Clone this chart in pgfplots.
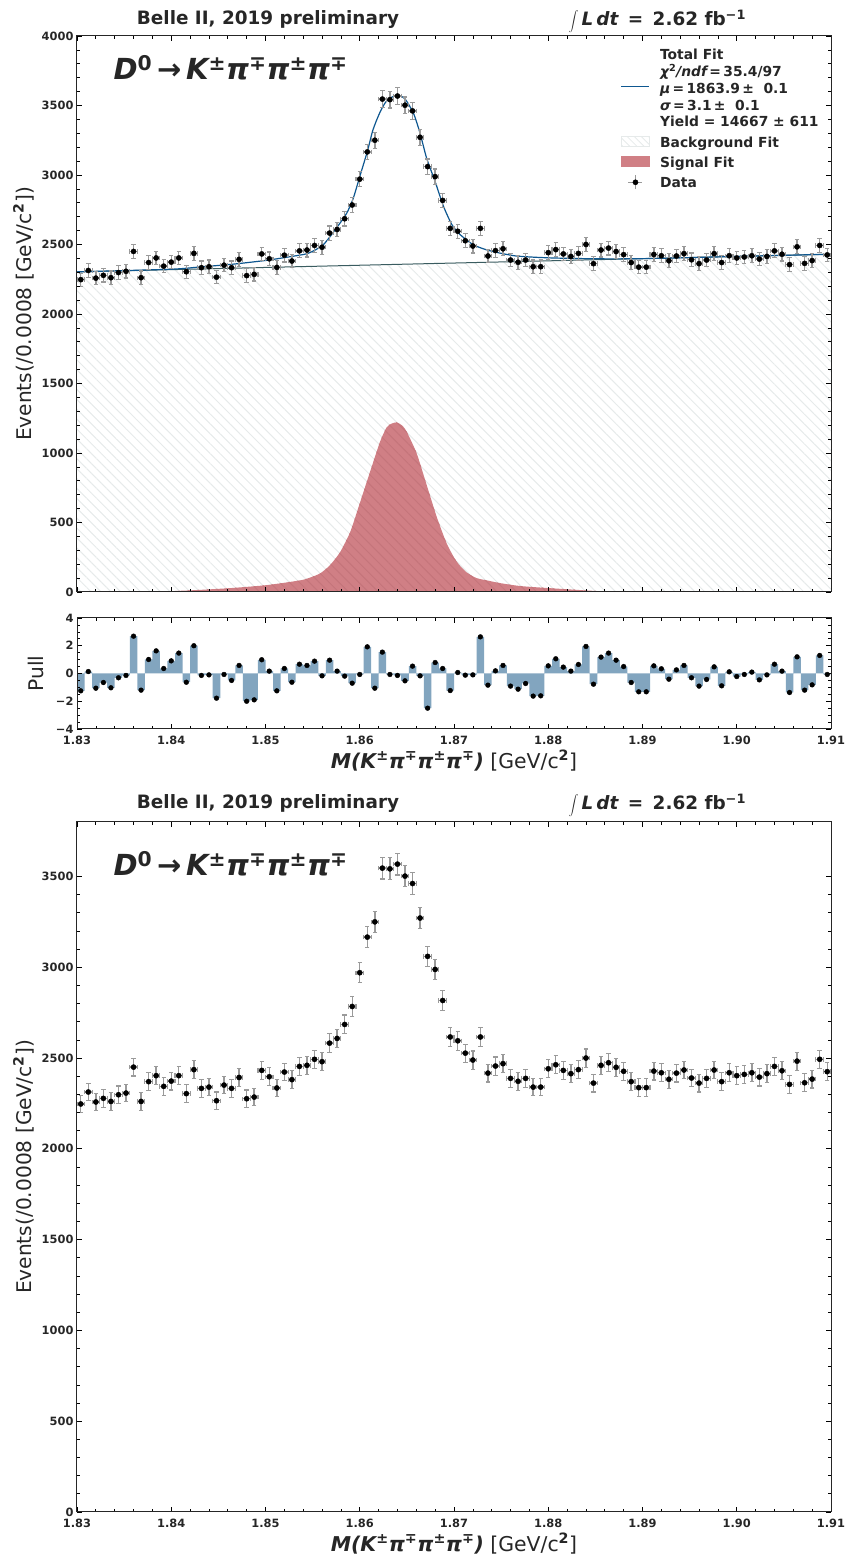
\documentclass[border=0pt]{standalone}
\usepackage{fontspec}
\setmainfont{DejaVu Sans}
\usepackage{pgfplots}
\usepackage{pgfplotstable}
\usetikzlibrary{patterns.meta}
\pgfplotsset{compat=1.18}
\definecolor{txt}{HTML}{262626}
\definecolor{sigc}{HTML}{D07F85}
\definecolor{sigd}{HTML}{C4757B}
\definecolor{pullc}{HTML}{82A5BF}
\definecolor{fitc}{HTML}{0E5790}
\definecolor{bgl}{HTML}{3A5C60}
\definecolor{errc}{HTML}{9A9A9A}
\definecolor{hatch}{HTML}{E6EAEA}
\pgfplotstableread{
x y pull err
1.8304 2247 -1.25 47
1.8312 2313 0.14 48
1.8320 2258 -1.06 48
1.8328 2278 -0.65 48
1.8336 2261 -1.03 48
1.8344 2298 -0.31 48
1.8352 2307 -0.14 48
1.8360 2450 2.69 49
1.8368 2261 -1.20 48
1.8376 2370 1.01 49
1.8384 2403 1.63 49
1.8392 2344 0.36 48
1.8400 2373 0.91 49
1.8408 2403 1.47 49
1.8416 2304 -0.63 48
1.8424 2436 2.00 49
1.8432 2333 -0.14 48
1.8440 2340 -0.10 48
1.8448 2265 -1.78 48
1.8456 2351 -0.07 48
1.8464 2333 -0.50 48
1.8472 2393 0.58 49
1.8480 2276 -2.00 48
1.8488 2285 -1.90 48
1.8496 2432 0.99 49
1.8504 2397 0.17 49
1.8512 2335 -1.25 48
1.8520 2423 0.36 49
1.8528 2381 -0.63 49
1.8536 2454 0.67 50
1.8544 2460 0.58 50
1.8552 2493 0.89 50
1.8560 2480 -0.17 50
1.8568 2582 0.96 51
1.8576 2608 0.17 51
1.8584 2685 -0.19 52
1.8592 2784 -0.70 53
1.8600 2970 -0.07 54
1.8608 3166 1.92 56
1.8616 3250 -1.06 57
1.8624 3546 1.54 60
1.8632 3542 -0.07 60
1.8640 3568 -0.14 60
1.8648 3502 -0.53 59
1.8656 3461 0.53 59
1.8664 3271 -0.17 57
1.8672 3060 -2.50 55
1.8680 2988 0.79 55
1.8688 2817 0.36 53
1.8696 2616 -1.23 51
1.8704 2595 0.07 51
1.8712 2527 -0.12 50
1.8720 2489 -0.10 50
1.8728 2616 2.64 51
1.8736 2417 -0.84 49
1.8744 2456 0.19 50
1.8752 2469 0.58 50
1.8760 2388 -0.91 49
1.8768 2372 -1.13 49
1.8776 2388 -0.72 49
1.8784 2340 -1.63 48
1.8792 2340 -1.61 48
1.8800 2441 0.55 49
1.8808 2463 1.06 50
1.8816 2432 0.46 49
1.8824 2414 0.17 49
1.8832 2436 0.65 49
1.8840 2500 1.95 50
1.8848 2362 -0.77 49
1.8856 2460 1.18 50
1.8864 2474 1.47 50
1.8872 2449 0.96 49
1.8880 2427 0.50 49
1.8888 2370 -0.65 49
1.8896 2337 -1.32 48
1.8904 2337 -1.32 48
1.8912 2428 0.55 49
1.8920 2419 0.34 49
1.8928 2383 -0.41 49
1.8936 2417 0.26 49
1.8944 2434 0.58 49
1.8952 2390 -0.31 49
1.8960 2362 -0.91 49
1.8968 2388 -0.43 49
1.8976 2434 0.48 49
1.8984 2370 -0.89 49
1.8992 2419 0.12 49
1.9000 2403 -0.22 49
1.9008 2410 -0.07 49
1.9016 2419 0.10 49
1.9024 2395 -0.46 49
1.9032 2414 -0.10 49
1.9040 2454 0.67 50
1.9048 2430 0.17 49
1.9056 2355 -1.37 49
1.9064 2483 1.20 50
1.9072 2364 -1.20 49
1.9080 2384 -0.82 49
1.9088 2493 1.30 50
1.9096 2425 -0.07 49
}\datatab
\pgfplotstableread{
x sig
1.8300 0
1.8360 2
1.8399 6
1.8430 15
1.8465 29
1.8502 50
1.8537 84
1.8547 103
1.8558 134
1.8568 190
1.8579 285
1.8590 434
1.8600 638
1.8611 866
1.86215 1081
1.86286 1185
1.8634 1212
1.86392 1220
1.8645 1198
1.86498 1153
1.86604 997
1.8671 770
1.86816 542
1.86922 350
1.87028 218
1.87134 141
1.8724 100
1.8738 79
1.87488 64
1.8770 43
1.87984 29
1.88265 17
1.88514 7
1.88794 2
1.8904 0
1.9100 0
}\sigtab
\pgfplotstableread{
x bg
1.83 2303
1.91 2430
}\bgtab
\pgfplotstableread{
x tot
1.8300 2303
1.8400 2322
1.8430 2338
1.8465 2358
1.8500 2385
1.8526 2412
1.8545 2436
1.8561 2496
1.8575 2616
1.8586 2723
1.8593 2830
1.8600 2988
1.8608 3168
1.8614 3324
1.8621 3444
1.8628 3528
1.8639 3576
1.8648 3547
1.8657 3444
1.8664 3300
1.8671 3120
1.8680 2952
1.8689 2772
1.8698 2640
1.8707 2568
1.8721 2496
1.8738 2455
1.8765 2418
1.8800 2404
1.8850 2397
1.8900 2398
1.9000 2414
1.9100 2430
}\tottab
\pgfplotsset{
  base/.style={
    scale only axis, width=754pt, xmin=1.83, xmax=1.91,
    xtick={1.83,1.84,1.85,1.86,1.87,1.88,1.89,1.90,1.91},
    minor x tick num=4,
    tick align=inside, tick pos=both,
    major tick length=5pt, minor tick length=2.8pt,
    every tick/.style={black,line width=0.9pt},
    every minor tick/.style={black,line width=0.7pt},
    axis line style={line width=1pt,color=txt},
    tick label style={font=\bfseries\fontsize{11.4}{12}\selectfont,text=txt},
    xticklabel style={yshift=-4pt},
    label style={text=txt},
    ylabel style={font=\fontsize{20.2}{21}\selectfont,yshift=1pt},
    xlabel style={font=\fontsize{20.4}{21}\selectfont,yshift=2pt},
    axis on top,
    clip=true,
  },
  xl/.style={xticklabels={1.83,1.84,1.85,1.86,1.87,1.88,1.89,1.90,1.91}},
  datapts/.style={only marks, mark=*, mark size=2.6pt, mark options={black,draw=black},
    error bars/.cd, y dir=both, y explicit, x dir=both, x fixed=0.0004,
    error bar style={errc,line width=1.4pt},
    error mark options={rotate=90,errc,mark size=2.2pt,line width=1.1pt}},
}
\newcommand{\xlab}{{\bfseries\itshape M(K\textsuperscript{\upshape ±}π\textsuperscript{\upshape ∓}π\textsuperscript{\upshape ±}π\textsuperscript{\upshape ∓})} [GeV/c\textsuperscript{\bfseries 2}]}
\newcommand{\ylab}{Events(/0.0008 [GeV/c\textsuperscript{\bfseries 2}])}
\newcommand{\decay}{{\bfseries\itshape D\textsuperscript{\upshape 0}\,{\upshape →}\,K\textsuperscript{\upshape ±}π\textsuperscript{\upshape ∓}π\textsuperscript{\upshape ±}π\textsuperscript{\upshape ∓}}}
\newcommand{\toplabels}[1]{%
  \node[text=txt,font=\bfseries\fontsize{18.4}{19}\selectfont,anchor=base] at (268pt,#1pt) {Belle II, 2019 preliminary};
  \node[text=txt,font=\bfseries\fontsize{18.4}{19}\selectfont,anchor=base west] at (565pt,#1pt-1pt) {$\displaystyle\int$\,{\itshape L\,dt}\ \,=\ \,2.62 fb\textsuperscript{−1}};
}
\begin{document}
\begin{tikzpicture}[x=1pt,y=1pt]
\path[use as bounding box] (0,0) rectangle (847,1560);

% top panel
\begin{axis}[base, at={(77pt,968pt)}, anchor=south west, height=556pt,
  ymin=0, ymax=4000,
  ytick={0,500,1000,1500,2000,2500,3000,3500,4000},
  yticklabels={0,500,1000,1500,2000,2500,3000,3500,4000},
  minor y tick num=4, xticklabels={},
  ylabel={\ylab},
  legend cell align=left,
  legend style={draw=none,fill=none,at={(0.717,0.984)},anchor=north west,
    font=\bfseries\fontsize{13.85}{15}\selectfont,text=txt,row sep=3.7pt,
    /tikz/every odd column/.append style={column sep=8pt}},
]
\addlegendimage{legend image code/.code={\draw[color=fitc,line width=1.3pt] (0pt,2.5pt)--(28pt,2.5pt);}}
\addlegendentry{\vbox{\baselineskip=16.8pt\hbox{Total Fit}\hbox{{\itshape χ}\textsuperscript{2}{\itshape /ndf}\,=\,35.4/97}\hbox{{\itshape μ}\,=\,1863.9\,±\ \ 0.1}\hbox{{\itshape σ}\,=\,3.1\,±\ \ 0.1}\hbox{Yield = 14667 ± 611}\vskip1pt}}
\addlegendimage{legend image code/.code={\path[draw=hatch,pattern={Lines[angle=-45,distance=5pt,line width=0.8pt]},pattern color=hatch] (0pt,-3pt) rectangle (28pt,7pt);}}
\addlegendentry{Background Fit}
\addlegendimage{legend image code/.code={\fill[sigc] (0pt,-3pt) rectangle (28pt,7pt);}}
\addlegendentry{Signal Fit}
\addlegendimage{legend image code/.code={\draw[errc,line width=1.3pt] (7pt,1pt)--(21pt,1pt) (14pt,-6pt)--(14pt,8pt);\fill[black] (14pt,1pt) circle (2.6pt);}}
\addlegendentry{Data}

\addplot[forget plot,draw=none,pattern={Lines[angle=-45,distance=7pt,line width=1pt]},pattern color=hatch] table[x=x,y=bg] {\bgtab} \closedcycle;
\addplot[forget plot,draw=none,fill=sigc,smooth,tension=0.4] table[x=x,y=sig] {\sigtab} \closedcycle;
\addplot[forget plot,draw=none,pattern={Lines[angle=-45,distance=7pt,line width=1pt]},pattern color=sigd,smooth,tension=0.4] table[x=x,y=sig] {\sigtab} \closedcycle;
\addplot[forget plot,bgl,line width=1pt] table[x=x,y=bg] {\bgtab};
\addplot[forget plot,fitc,line width=1.2pt,smooth,tension=0.4] table[x=x,y=tot] {\tottab};
\addplot[forget plot,datapts] table[x=x,y=y,y error=err] {\datatab};
\end{axis}

% pull panel
\begin{axis}[base, at={(77pt,831pt)}, anchor=south west, height=111pt,
  ymin=-4, ymax=4,
  ytick={-4,-2,0,2,4}, yticklabels={−4,−2,0,2,4},
  minor y tick num=3, xl,
  ylabel={Pull}, ylabel style={yshift=4pt},
  xlabel={\xlab},
]
\addplot[ybar,bar width=0.0008,bar shift=0pt,fill=pullc,draw=none] table[x=x,y=pull] {\datatab};
\addplot[only marks,mark=*,mark size=2.4pt,black] table[x=x,y=pull] {\datatab};
\end{axis}

% bottom panel
\begin{axis}[base, at={(77pt,48pt)}, anchor=south west, height=690pt,
  ymin=0, ymax=3800,
  ytick={0,500,1000,1500,2000,2500,3000,3500},
  yticklabels={0,500,1000,1500,2000,2500,3000,3500},
  minor y tick num=4, xl,
  ylabel={\ylab},
  xlabel={\xlab},
]
\addplot[datapts] table[x=x,y=y,y error=err] {\datatab};
\end{axis}

\toplabels{1535}
\toplabels{751}
\node[text=txt,font=\fontsize{29}{30}\selectfont,anchor=base west] at (110pt,1480pt) {\decay};
\node[text=txt,font=\fontsize{29}{30}\selectfont,anchor=base west] at (110pt,684pt) {\decay};
\end{tikzpicture}
\end{document}
